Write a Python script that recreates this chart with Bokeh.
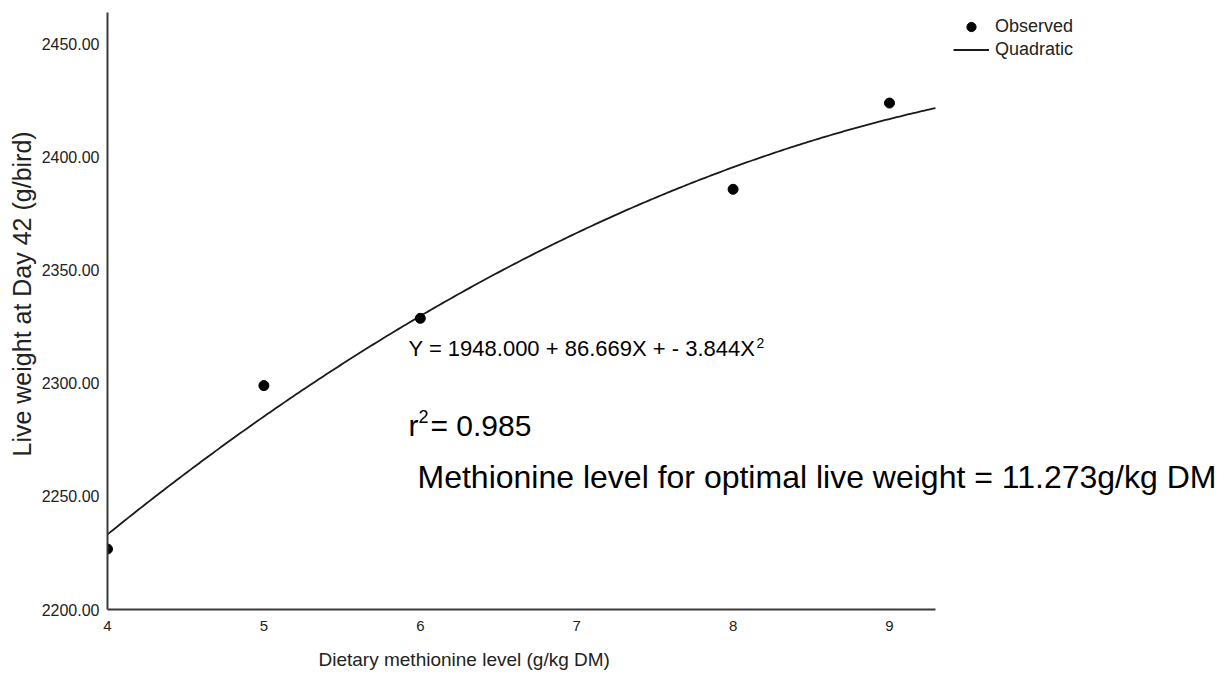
import numpy as np
from bokeh.plotting import figure
from bokeh.models import (Range1d, FixedTicker, NumeralTickFormatter, Label,
                          Legend, LegendItem, ColumnDataSource, Title)
from bokeh.embed import file_html
from bokeh.resources import INLINE

# ---- data ----
methionine = [4, 5, 6, 8, 9]                            # g/kg DM
live_weight = [2226.7, 2298.9, 2328.6, 2385.6, 2423.7]  # g/bird
x_ticks = [4, 5, 6, 7, 8, 9]
y_ticks = [2200, 2250, 2300, 2350, 2400, 2450]
quad_coef = [1948.000, 86.669, -3.844]                  # fitted quadratic (chart's equation)
x_lo, x_hi = 4.0, 9.294        # extent of the drawn x axis
y_lo, y_hi = 2200.0, 2463.7

FONT = "Liberation Sans"
TXT = "#222222"

# frame runs to the page edge so the annotations are not clipped;
# the x axis line itself is bounded to [x_lo, x_hi]
x_view_end = x_lo + (1230 - 107) / 156.4

p = figure(width=1230, height=682, output_backend="svg", toolbar_location=None,
           x_range=Range1d(x_lo, x_view_end), y_range=Range1d(y_lo, y_hi),
           min_border_left=107, min_border_right=0, min_border_top=12,
           min_border_bottom=73)
p.outline_line_color = None
p.xgrid.visible = False
p.ygrid.visible = False
p.background_fill_color = "white"
p.border_fill_color = "white"

# quadratic curve
xs = np.linspace(x_lo, x_hi, 300)
ys = quad_coef[0] + quad_coef[1] * xs + quad_coef[2] * xs ** 2
curve = p.line(xs, ys, line_color="#1a1a1a", line_width=1.8)

src = ColumnDataSource(dict(x=methionine, y=live_weight))
pts = p.scatter("x", "y", source=src, size=10, fill_color="black", line_color="black")

# axes
for ax in (p.xaxis[0], p.yaxis[0]):
    ax.axis_line_color = "#3a3a3a"
    ax.axis_line_width = 2
    ax.major_tick_line_color = None
    ax.minor_tick_line_color = None
    ax.major_tick_out = 0
    ax.major_tick_in = 0
    ax.major_label_text_font = FONT
    ax.major_label_text_color = TXT

p.xaxis.bounds = (x_lo, x_hi)
p.xaxis.ticker = FixedTicker(ticks=x_ticks)
p.yaxis.ticker = FixedTicker(ticks=y_ticks)
p.yaxis.formatter = NumeralTickFormatter(format="0.00")
p.xaxis.major_label_text_font_size = "15px"
p.yaxis.major_label_text_font_size = "16px"
p.xaxis.major_label_standoff = 11
p.yaxis.major_label_standoff = 8

# axis titles as Title objects so they can be offset like the reference
xt = Title(text="Dietary methionine level (g/kg DM)", align="left", offset=211,
           text_font=FONT, text_font_size="19px", text_font_style="normal",
           text_color=TXT, standoff=26)
p.add_layout(xt, "below")
yt = Title(text="Live weight at Day 42 (g/bird)", align="left", offset=153,
           text_font=FONT, text_font_size="25px", text_font_style="normal",
           text_color=TXT, standoff=6)
p.add_layout(yt, "left")

# legend (inside the wide frame, at the reference position)
legend = Legend(items=[LegendItem(label="Observed", renderers=[pts]),
                       LegendItem(label="Quadratic", renderers=[curve])],
                location=(846, 548))
legend.margin = 0
legend.padding = 0
legend.spacing = 0
legend.glyph_width = 36
legend.glyph_height = 23
legend.label_height = 23
legend.label_standoff = 6
legend.label_text_font = FONT
legend.label_text_font_size = "18px"
legend.label_text_color = TXT
legend.border_line_color = None
legend.background_fill_alpha = 0
p.add_layout(legend, "center")


# annotations (positions converted from reference pixels)
def dx(px):
    return x_lo + (px - 107) / 156.4


def dy(py):
    return y_lo + (609 - py) / 2.264


ann = dict(text_font=FONT, text_color="black", text_baseline="alphabetic")
p.add_layout(Label(x=dx(408), y=dy(348), text="Y = 1948.000 + 86.669X + - 3.844X",
                   text_font_size="22px", **ann))
p.add_layout(Label(x=dx(756), y=dy(342), text="2", text_font_size="14px", **ann))
p.add_layout(Label(x=dx(408), y=dy(425), text="r", text_font_size="30px", **ann))
p.add_layout(Label(x=dx(418), y=dy(416), text="2", text_font_size="18px", **ann))
p.add_layout(Label(x=dx(430), y=dy(425), text="= 0.985", text_font_size="30px", **ann))
p.add_layout(Label(x=dx(417), y=dy(476),
                   text="Methionine level for optimal live weight = 11.273g/kg DM",
                   text_font_size="32px", **ann))

open("out.html", "w").write(file_html(p, INLINE))
